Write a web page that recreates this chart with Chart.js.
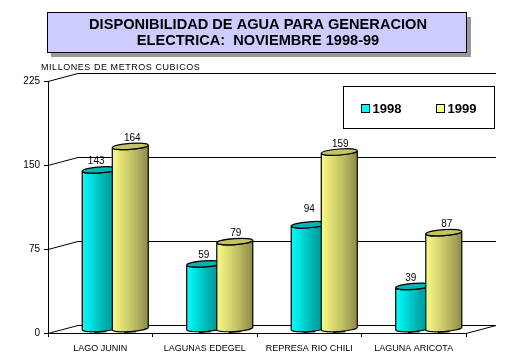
<!DOCTYPE html>
<html>
<head>
<meta charset="utf-8">
<title>Disponibilidad de agua</title>
<style>
  html, body { margin: 0; padding: 0; background: #fff; }
  canvas { display: block; }
</style>
<script src="https://cdn.jsdelivr.net/npm/chart.js@4"></script>
</head>
<body>
<canvas id="grafico" width="516" height="358"></canvas>
<script>
const categorias = ['LAGO JUNIN', 'LAGUNAS EDEGEL', 'REPRESA RIO CHILI', 'LAGUNA ARICOTA'];
const valores1998 = [143, 59, 94, 39];
const valores1999 = [164, 79, 159, 87];
const marcasY = [0, 75, 150, 225];
const tituloLineas = ['DISPONIBILIDAD DE AGUA PARA GENERACION', 'ELECTRICA:  NOVIEMBRE 1998-99'];
const unidad = 'MILLONES DE METROS CUBICOS';

// profundidad del efecto 3D
const fondoX = 30;
const fondoY = -8;

const coloresCilindro = [
    { stops: ['#00ffff', '#00d4d4', '#00aaaa', '#008b8b'], tapa: '#00b4b4', leyenda: '#00ffff' },
    { stops: ['#fbfb85', '#d9d973', '#b5b561', '#8c8a4a'], tapa: '#c4c464', leyenda: '#ffff80' }
];

// pequeños desplazamientos de las etiquetas de valor (x, y)
const ajusteEtiquetas = [
    [[-4, 0], [-1, 0], [0, -7], [-3, 0]],
    [[2, 0], [1, 0], [1, 0], [3, 0]]
];

function linea(ctx, x1, y1, x2, y2) {
    ctx.beginPath();
    ctx.moveTo(x1, y1);
    ctx.lineTo(x2, y2);
    ctx.stroke();
}

// caja del titulo, detras del texto
const cajaTitulo = {
    id: 'cajaTitulo',
    beforeDraw(chart) {
        const ctx = chart.ctx;
        ctx.save();
        ctx.fillStyle = '#999999';
        ctx.fillRect(51, 17, 420, 40);
        ctx.fillStyle = '#ccccff';
        ctx.fillRect(47.5, 12.5, 419, 40);
        ctx.strokeStyle = '#000';
        ctx.lineWidth = 1;
        ctx.strokeRect(47.5, 12.5, 419, 40);
        ctx.restore();
    }
};

// paredes y lineas de fondo
const fondo3d = {
    id: 'fondo3d',
    beforeDatasetsDraw(chart) {
        const ctx = chart.ctx;
        const area = chart.chartArea;
        const y = chart.scales.y;
        ctx.save();
        ctx.strokeStyle = '#000';
        ctx.lineWidth = 1;
        marcasY.forEach(v => {
            const py = Math.round(y.getPixelForValue(v)) + 0.5;
            linea(ctx, area.left, py, area.left + fondoX, py + fondoY);
            linea(ctx, area.left + fondoX, py + fondoY, area.right + fondoX, py + fondoY);
        });
        const py0 = Math.round(y.getPixelForValue(0)) + 0.5;
        linea(ctx, area.right, py0, area.right + fondoX, py0 + fondoY);
        ctx.restore();
    }
};

function dibujarCilindro(ctx, x, yTop, yBase, ancho, color) {
    const rx = ancho / 2;
    const ry = 3;
    const giro = -0.07;
    const alto = rx * Math.sin(giro);
    const grad = ctx.createLinearGradient(x - rx, 0, x + rx, 0);
    color.stops.forEach((c, i) => grad.addColorStop(i / (color.stops.length - 1), c));

    ctx.beginPath();
    ctx.ellipse(x, yTop, rx, ry, giro, Math.PI, 0, true);
    ctx.ellipse(x, yBase, rx, ry, giro, 0, Math.PI, false);
    ctx.closePath();
    ctx.fillStyle = grad;
    ctx.fill();
    ctx.stroke();

    ctx.beginPath();
    ctx.ellipse(x, yTop, rx, ry, giro, 0, Math.PI * 2);
    ctx.fillStyle = color.tapa;
    ctx.fill();
    ctx.stroke();
    // sombra de la base
    linea(ctx, x - 6, yBase + ry + 0.5 - alto * 0.3, x + 6, yBase + ry + 0.5 + alto * 0.3);
}

// cilindros y etiquetas, a partir de las barras que calcula Chart.js
const cilindros = {
    id: 'cilindros',
    afterDatasetsDraw(chart) {
        const ctx = chart.ctx;
        const y = chart.scales.y;
        ctx.save();
        ctx.strokeStyle = '#000';
        ctx.lineWidth = 1.2;
        chart.data.datasets.forEach((ds, d) => {
            chart.getDatasetMeta(d).data.forEach((barra, i) => {
                const x = barra.x + fondoX / 2;
                const yTop = barra.y - 3;
                const yBase = y.getPixelForValue(0) - 4.5;
                dibujarCilindro(ctx, x, yTop, yBase, barra.width, coloresCilindro[d]);
            });
        });
        ctx.fillStyle = '#000';
        ctx.font = '10px "Liberation Sans"';
        ctx.textAlign = 'center';
        ctx.textBaseline = 'alphabetic';
        chart.data.datasets.forEach((ds, d) => {
            chart.getDatasetMeta(d).data.forEach((barra, i) => {
                const [ax, ay] = ajusteEtiquetas[d][i];
                ctx.fillText(String(ds.data[i]), barra.x + fondoX / 2 + ax, barra.y - 8.5 + ay);
            });
        });
        ctx.restore();
    }
};

// unidad del eje y leyenda
const textos = {
    id: 'textos',
    afterDraw(chart) {
        const ctx = chart.ctx;
        ctx.save();
        ctx.fillStyle = '#000';
        ctx.textBaseline = 'alphabetic';
        ctx.font = '9px "Liberation Sans"';
        ctx.letterSpacing = '0.55px';
        ctx.fillText(unidad, 41, 70);
        ctx.letterSpacing = '0px';

        ctx.fillStyle = '#fff';
        ctx.strokeStyle = '#000';
        ctx.lineWidth = 1;
        ctx.fillRect(343.5, 86.5, 151, 42);
        ctx.strokeRect(343.5, 86.5, 151, 42);

        ctx.font = 'bold 13px "Liberation Sans"';
        chart.data.datasets.forEach((ds, d) => {
            const x = 361.5 + d * 75;
            ctx.fillStyle = coloresCilindro[d].leyenda;
            ctx.fillRect(x, 104.5, 8, 8);
            ctx.strokeRect(x, 104.5, 8, 8);
            ctx.fillStyle = '#000';
            ctx.fillText(ds.label, x + 11, 112.5);
        });
        ctx.restore();
    }
};

new Chart(document.getElementById('grafico'), {
    type: 'bar',
    data: {
        labels: categorias,
        datasets: [
            { label: '1998', data: valores1998, backgroundColor: 'transparent', borderWidth: 0 },
            { label: '1999', data: valores1999, backgroundColor: 'transparent', borderWidth: 0 }
        ]
    },
    options: {
        responsive: false,
        animation: false,
        events: [],
        datasets: { bar: { categoryPercentage: 0.5755, barPercentage: 1.2 } },
        plugins: {
            legend: { display: false },
            tooltip: { enabled: false },
            title: {
                display: true,
                fullSize: true,
                text: tituloLineas,
                color: '#000',
                font: { family: '"Liberation Sans"', size: 14.6, weight: 'bold', lineHeight: 1.1 },
                padding: { top: 17, bottom: 32 }
            }
        },
        scales: {
            x: {
                afterFit(scale) { scale.height = 25; },
                grid: { drawOnChartArea: false, offset: true, tickLength: 4, color: '#000' },
                border: { color: '#000', width: 1 },
                ticks: { color: '#000', font: { family: '"Liberation Sans"', size: 9 }, maxRotation: 0, autoSkip: false, padding: 6 }
            },
            y: {
                min: 0,
                max: 225,
                afterFit(scale) { scale.width = 48; },
                afterBuildTicks(scale) { scale.ticks = marcasY.map(v => ({ value: v })); },
                grid: { drawOnChartArea: false, tickLength: 4, color: '#000' },
                border: { color: '#000', width: 1 },
                ticks: { color: '#000', font: { family: '"Liberation Sans"', size: 10 }, padding: 4 }
            },
            // eje vacio: reserva el margen derecho sin descentrar el titulo
            margenDer: {
                type: 'linear',
                position: 'right',
                afterFit(scale) { scale.width = 50; },
                grid: { display: false },
                border: { display: false },
                ticks: { display: false }
            }
        }
    },
    plugins: [cajaTitulo, fondo3d, cilindros, textos]
});
</script>
</body>
</html>
